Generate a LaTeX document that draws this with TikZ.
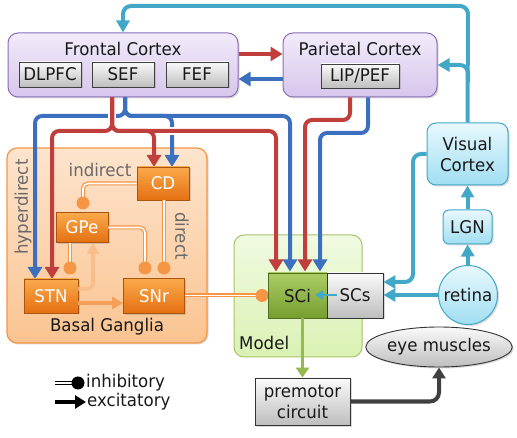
\documentclass[tikz,border=0pt]{standalone}
\usepackage{fontspec}
\setmainfont{DejaVu Sans}[FakeStretch=0.95]
\usetikzlibrary{arrows.meta,shapes.geometric,shadows}
\definecolor{cred}{RGB}{192,62,60}
\definecolor{cblue}{RGB}{60,112,190}
\definecolor{ccyan}{RGB}{66,168,200}
\definecolor{cpurple}{RGB}{140,110,180}
\definecolor{corange}{RGB}{245,150,70}
\definecolor{cgreen}{RGB}{150,185,80}
\definecolor{ctext}{RGB}{25,25,25}
\definecolor{clabel}{RGB}{105,105,105}
\definecolor{pTop}{RGB}{242,235,250}
\definecolor{pBot}{RGB}{214,198,236}
\definecolor{bgTop}{RGB}{253,228,205}
\definecolor{bgBot}{RGB}{251,196,145}
\definecolor{mTop}{RGB}{240,250,225}
\definecolor{mBot}{RGB}{218,242,180}
\definecolor{oTop}{RGB}{250,170,75}
\definecolor{oBot}{RGB}{228,112,18}
\definecolor{oDraw}{RGB}{170,85,15}
\definecolor{gTop}{RGB}{172,205,100}
\definecolor{gBot}{RGB}{118,158,48}
\definecolor{gDraw}{RGB}{80,110,30}
\definecolor{cyTop}{RGB}{232,248,253}
\definecolor{cyBot}{RGB}{160,222,242}
\definecolor{grTop}{RGB}{250,250,250}
\definecolor{grBot}{RGB}{190,190,190}
\definecolor{cdark}{RGB}{64,64,64}
\definecolor{exLight}{RGB}{248,190,140}
\definecolor{exMid}{RGB}{244,160,90}
\begin{document}
\begin{tikzpicture}[x=1pt,y=-1pt,
  font=\fontsize{17.5}{21}\selectfont, text=ctext,
  shad/.style={drop shadow={opacity=0.3,shadow xshift=1.5pt,shadow yshift=-1.5pt}},
  region/.style={rounded corners=10pt, line width=1pt, inner sep=0pt},
  cortexbox/.style={region, draw=cpurple, top color=pTop, bottom color=pBot, shad},
  bgbox/.style={region, draw=corange, line width=1.2pt, top color=bgTop, bottom color=bgBot, shad},
  modelbox/.style={region, draw=cgreen!85, top color=mTop, bottom color=mBot},
  subbox/.style={draw=black!75, line width=0.8pt, top color=grTop, bottom color=grBot, inner sep=0pt, minimum height=25pt, shad},
  obox/.style={draw=oDraw, line width=0.8pt, top color=oTop, bottom color=oBot, text=white, inner sep=0pt, shad},
  cybox/.style={draw=ccyan, line width=1pt, top color=cyTop, bottom color=cyBot, inner sep=0pt, shad},
  grbox/.style={draw=black!80, line width=0.9pt, top color=grTop, bottom color=grBot, inner sep=0pt, shad},
  lbl/.style={text=clabel, inner sep=0pt},
  exc/.style={line width=4pt, -{Triangle[length=12pt,width=14pt]}, rounded corners=7pt},
  redline/.style={exc, draw=cred},
  blueline/.style={exc, draw=cblue},
  halo/.style={draw=white, line width=8pt},
  cyanline/.style={line width=4pt, draw=ccyan, -{Triangle[length=12pt,width=13pt]}, rounded corners=8pt},
  inh/.style={draw=corange, line width=1.2pt, double=white, double distance=1.6pt, rounded corners=5pt},
  dot/.style={fill=corange},
]
\useasboundingbox (0,0) rectangle (517,438);

% ---------- regions ----------
\node[cortexbox, minimum width=230pt, minimum height=64pt] (Frontal) at (123,65) {};
\node[inner sep=0pt] (FrontalT) at (123,49) {Frontal Cortex};
\node[subbox, minimum width=62pt] (DLPFC) at (50,74.5) {DLPFC};
\node[subbox, minimum width=62pt] (SEF) at (123,74.5) {SEF};
\node[subbox, minimum width=62pt] (FEF) at (197,74.5) {FEF};

\node[cortexbox, minimum width=154pt, minimum height=64pt] (Parietal) at (360,65) {};
\node[inner sep=0pt] (ParietalT) at (360,49) {Parietal Cortex};
\node[subbox, minimum width=78pt, minimum height=24pt] (LIP) at (360,76) {LIP/PEF};

\node[bgbox, minimum width=200pt, minimum height=195pt] (BG) at (107,245.5) {};
\node[inner sep=0pt] (BGT) at (107,327) {Basal Ganglia};

\node[modelbox, minimum width=128pt, minimum height=122pt] (Model) at (298,296) {};
\node[inner sep=0pt, anchor=west] (ModelT) at (239,343) {Model};

% ---------- cortex to cortex ----------
\draw[redline] (Frontal.east |- 0,54) -- (Parietal.west |- 0,54);
\draw[blueline] (Parietal.west |- 0,79) -- (Frontal.east |- 0,79);

% ---------- blue projections ----------
\coordinate (bF) at (Frontal.south -| 125,0);
\coordinate (bP) at (Parietal.south -| 368,0);
\draw[blueline] (bF) -- (125,116) -- (35,116) -- (35,279);
\draw[blueline] (bF) -- (125,116) -- (172,116) -- (172,167);
\draw[blueline, shorten >=1.5pt] (bF) -- (125,116) -- (290,116) -- (290,273);
\draw[blueline, shorten >=1.5pt] (bP) -- (368,133) -- (320,133) -- (320,273);

% ---------- halos at crossings ----------
\draw[halo] (112,109) -- (112,123);
\draw[halo] (165,131) -- (179,131);

% ---------- red projections ----------
\coordinate (rF) at (Frontal.south -| 112,0);
\coordinate (rP) at (Parietal.south -| 350,0);
\draw[redline] (rF) -- (112,131) -- (52,131) -- (52,279);
\draw[redline] (rF) -- (112,131) -- (154,131) -- (154,167);
\draw[redline, shorten >=1.5pt] (rF) -- (112,131) -- (276,131) -- (276,273);
\draw[redline, shorten >=1.5pt] (rP) -- (350,120) -- (305,120) -- (305,273);

% ---------- basal ganglia nuclei ----------
\node[obox, minimum width=52pt, minimum height=33pt] (CD) at (163,183.5) {CD};
\node[obox, minimum width=52pt, minimum height=30pt] (GPe) at (82,227.5) {GPe};
\node[obox, minimum width=54pt, minimum height=34pt] (STN) at (51,296) {STN};
\node[obox, minimum width=61pt, minimum height=35pt] (SNr) at (154,296) {SNr};

\node[lbl, rotate=90] (hyper) at (23,207) {hyperdirect};
\node[lbl] (indir) at (100,170) {indirect};
\node[lbl, rotate=-90] (dir) at (182,236) {direct};

% inhibitory pathways
\coordinate (gpeDot) at (83,203);
\coordinate (stnDot) at (70,268);
\coordinate (snrDotA) at (145,268);
\coordinate (snrDotB) at (164,268);
\coordinate (sciDot) at (262,295.5);
\draw[inh] (CD.west) -| (gpeDot);
\draw[inh] (GPe.south -| stnDot) -- (stnDot);
\draw[inh] (GPe.east) -| (snrDotA);
\draw[inh] (CD.south -| snrDotB) -- (snrDotB);
\draw[inh, rounded corners=0pt] (SNr.east |- sciDot) -- (sciDot);
\foreach \d in {gpeDot,stnDot,snrDotA,snrDotB,sciDot} \fill[dot] (\d) circle (6.5);

% excitatory inside BG
\draw[draw=exLight, line width=4pt, rounded corners=6pt, -{Triangle[length=11pt,width=12pt]}] (STN.east |- 0,289) -- (93,289) -- (GPe.south -| 93,0);
\draw[draw=exMid, line width=4pt, -{Triangle[length=11pt,width=12pt]}] (STN.east |- 0,303) -- (SNr.west |- 0,303);

% ---------- superior colliculus ----------
\node[draw=gDraw, line width=0.9pt, top color=gTop, bottom color=gBot, inner sep=0pt, minimum width=59pt, minimum height=45pt, shad] (SCi) at (297.5,295.5) {SCi};
\node[grbox, minimum width=56pt, minimum height=45pt] (SCs) at (355,295.5) {\phantom{SCs}};
\draw[draw=ccyan, line width=2.8pt, -{Triangle[length=8pt,width=9pt]}] (SCs.west |- 0,295) ++(10,0) -- (315,295);
\node[inner sep=0pt] (SCsT) at (SCs) {SCs};

% ---------- visual pathway ----------
\node[cybox, rounded corners=9pt, minimum width=81pt, minimum height=62pt, align=center] (VC) at (467.5,154) {Visual\\Cortex};
\node[cybox, rounded corners=6pt, minimum width=49pt, minimum height=34pt] (LGN) at (467.5,227) {LGN};
\node[cybox, circle, minimum size=59pt] (retina) at (468,295) {retina};

\draw[cyanline] (VC.north) -- (468,6) -- (123,6) -- (Frontal.north);
\draw[cyanline] (468,82) -- (468,65) -- (Parietal.east |- 0,65);
\draw[cyanline] (VC.west) -- (VC.west -| 413,0) -- (413,282) -- (SCs.east |- 0,282);
\draw[cyanline] (retina.west) -- (SCs.east |- retina);
\draw[cyanline] (retina.north) -- (LGN.south);
\draw[cyanline] (LGN.north) -- (VC.south);

% ---------- motor output ----------
\node[grbox, minimum width=95pt, minimum height=47pt, align=center] (premotor) at (302.5,401.5) {premotor\\circuit};
\node[grbox, ellipse, minimum width=122pt, minimum height=40pt] (eye) at (439,347) {eye muscles};
\draw[draw=cgreen, line width=3.5pt, -{Triangle[length=10pt,width=13pt]}] (SCi.south -| premotor.north) -- (premotor.north);
\draw[draw=cdark, line width=4pt, rounded corners=9pt, -{Triangle[length=11pt,width=13pt]}] (premotor.east) -| (eye.south);

% ---------- legend ----------
\coordinate (inA) at (55,383);
\coordinate (inB) at (78,383);
\draw[draw=black, line width=1.2pt, double=white, double distance=1.6pt] (inA) -- (inB);
\fill[black] (inB) circle (6.5);
\node[inner sep=0pt, anchor=west] (inT) at (86,383) {inhibitory};
\coordinate (exA) at (55,402);
\coordinate (exB) at (86,402);
\draw[draw=black, line width=4pt, -{Triangle[length=11pt,width=13pt]}] (exA) -- (exB);
\node[inner sep=0pt, anchor=west] (exT) at (87,402) {excitatory};
\end{tikzpicture}
\end{document}
